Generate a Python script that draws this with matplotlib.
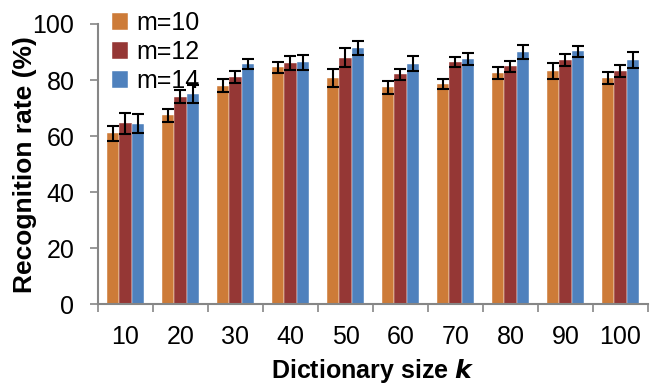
import numpy as np
import matplotlib.pyplot as plt
from matplotlib.ticker import FixedLocator

plt.rcParams['font.family'] = ['Liberation Sans', 'DejaVu Sans']

# Recognition rate (%) for each dictionary size, three values of m
sizes = [10, 20, 30, 40, 50, 60, 70, 80, 90, 100]
labels = ['m=10', 'm=12', 'm=14']
rate_m10 = [61.0, 67.4, 78.0, 84.5, 80.7, 77.4, 78.7, 82.6, 83.2, 80.8]
rate_m12 = [64.6, 74.1, 81.1, 86.1, 88.0, 82.0, 86.3, 84.9, 87.1, 83.3]
rate_m14 = [64.4, 75.1, 85.7, 86.4, 91.4, 85.9, 87.5, 89.9, 90.2, 87.1]
err_m10 = [2.7, 2.4, 2.2, 2.0, 3.2, 2.4, 1.8, 2.2, 2.8, 2.1]
err_m12 = [3.7, 2.3, 2.1, 2.4, 3.4, 2.0, 1.8, 2.0, 2.2, 2.1]
err_m14 = [3.4, 3.2, 1.7, 2.7, 2.6, 2.8, 2.1, 2.5, 2.1, 2.9]
colors = ['#CD7B38', '#953735', '#4F81BD']

fig = plt.figure(figsize=(6.55, 3.85), dpi=100)
ax = fig.add_axes([0.1496, 0.2096, 0.8397, 0.7281])

x = np.arange(len(sizes))
w = 0.225
series = [(rate_m10, err_m10), (rate_m12, err_m12), (rate_m14, err_m14)]
for i, (vals, errs) in enumerate(series):
    ax.bar(x + (i - 1) * w, vals, w, color=colors[i], label=labels[i],
           edgecolor='white', linewidth=0.3,
           yerr=errs, capsize=4,
           error_kw=dict(ecolor='black', elinewidth=1.5, capthick=1.5))

ax.set_xlim(-0.5, len(sizes) - 0.5)
ax.set_ylim(0, 100)
ax.set_yticks(range(0, 101, 20))
ax.set_xticks(x)
ax.set_xticklabels([str(s) for s in sizes])
ax.xaxis.set_minor_locator(FixedLocator(np.arange(-0.5, len(sizes), 1.0)))

gray = '#868686'
for side in ['top', 'right']:
    ax.spines[side].set_visible(False)
for side in ['left', 'bottom']:
    ax.spines[side].set_color(gray)
    ax.spines[side].set_linewidth(1.5)

ax.tick_params(axis='y', length=6, width=1.2, color=gray, pad=11, labelsize=18)
ax.tick_params(axis='x', which='major', length=0, pad=15, labelsize=18)
ax.tick_params(axis='x', which='minor', length=6, width=1.2, color=gray)

ax.set_xlabel('Dictionary size $\\boldsymbol{k}$', fontsize=18, fontweight='bold', labelpad=6)
ax.set_ylabel('Recognition rate (%)', fontsize=19, fontweight='bold', labelpad=-3)

fig.legend(loc='upper left', bbox_to_anchor=(0.155, 0.997), frameon=False,
           fontsize=18, handlelength=0.65, handleheight=0.65,
           handletextpad=0.35, labelspacing=0.2, borderaxespad=0)

fig.savefig('out.png', dpi=100)
